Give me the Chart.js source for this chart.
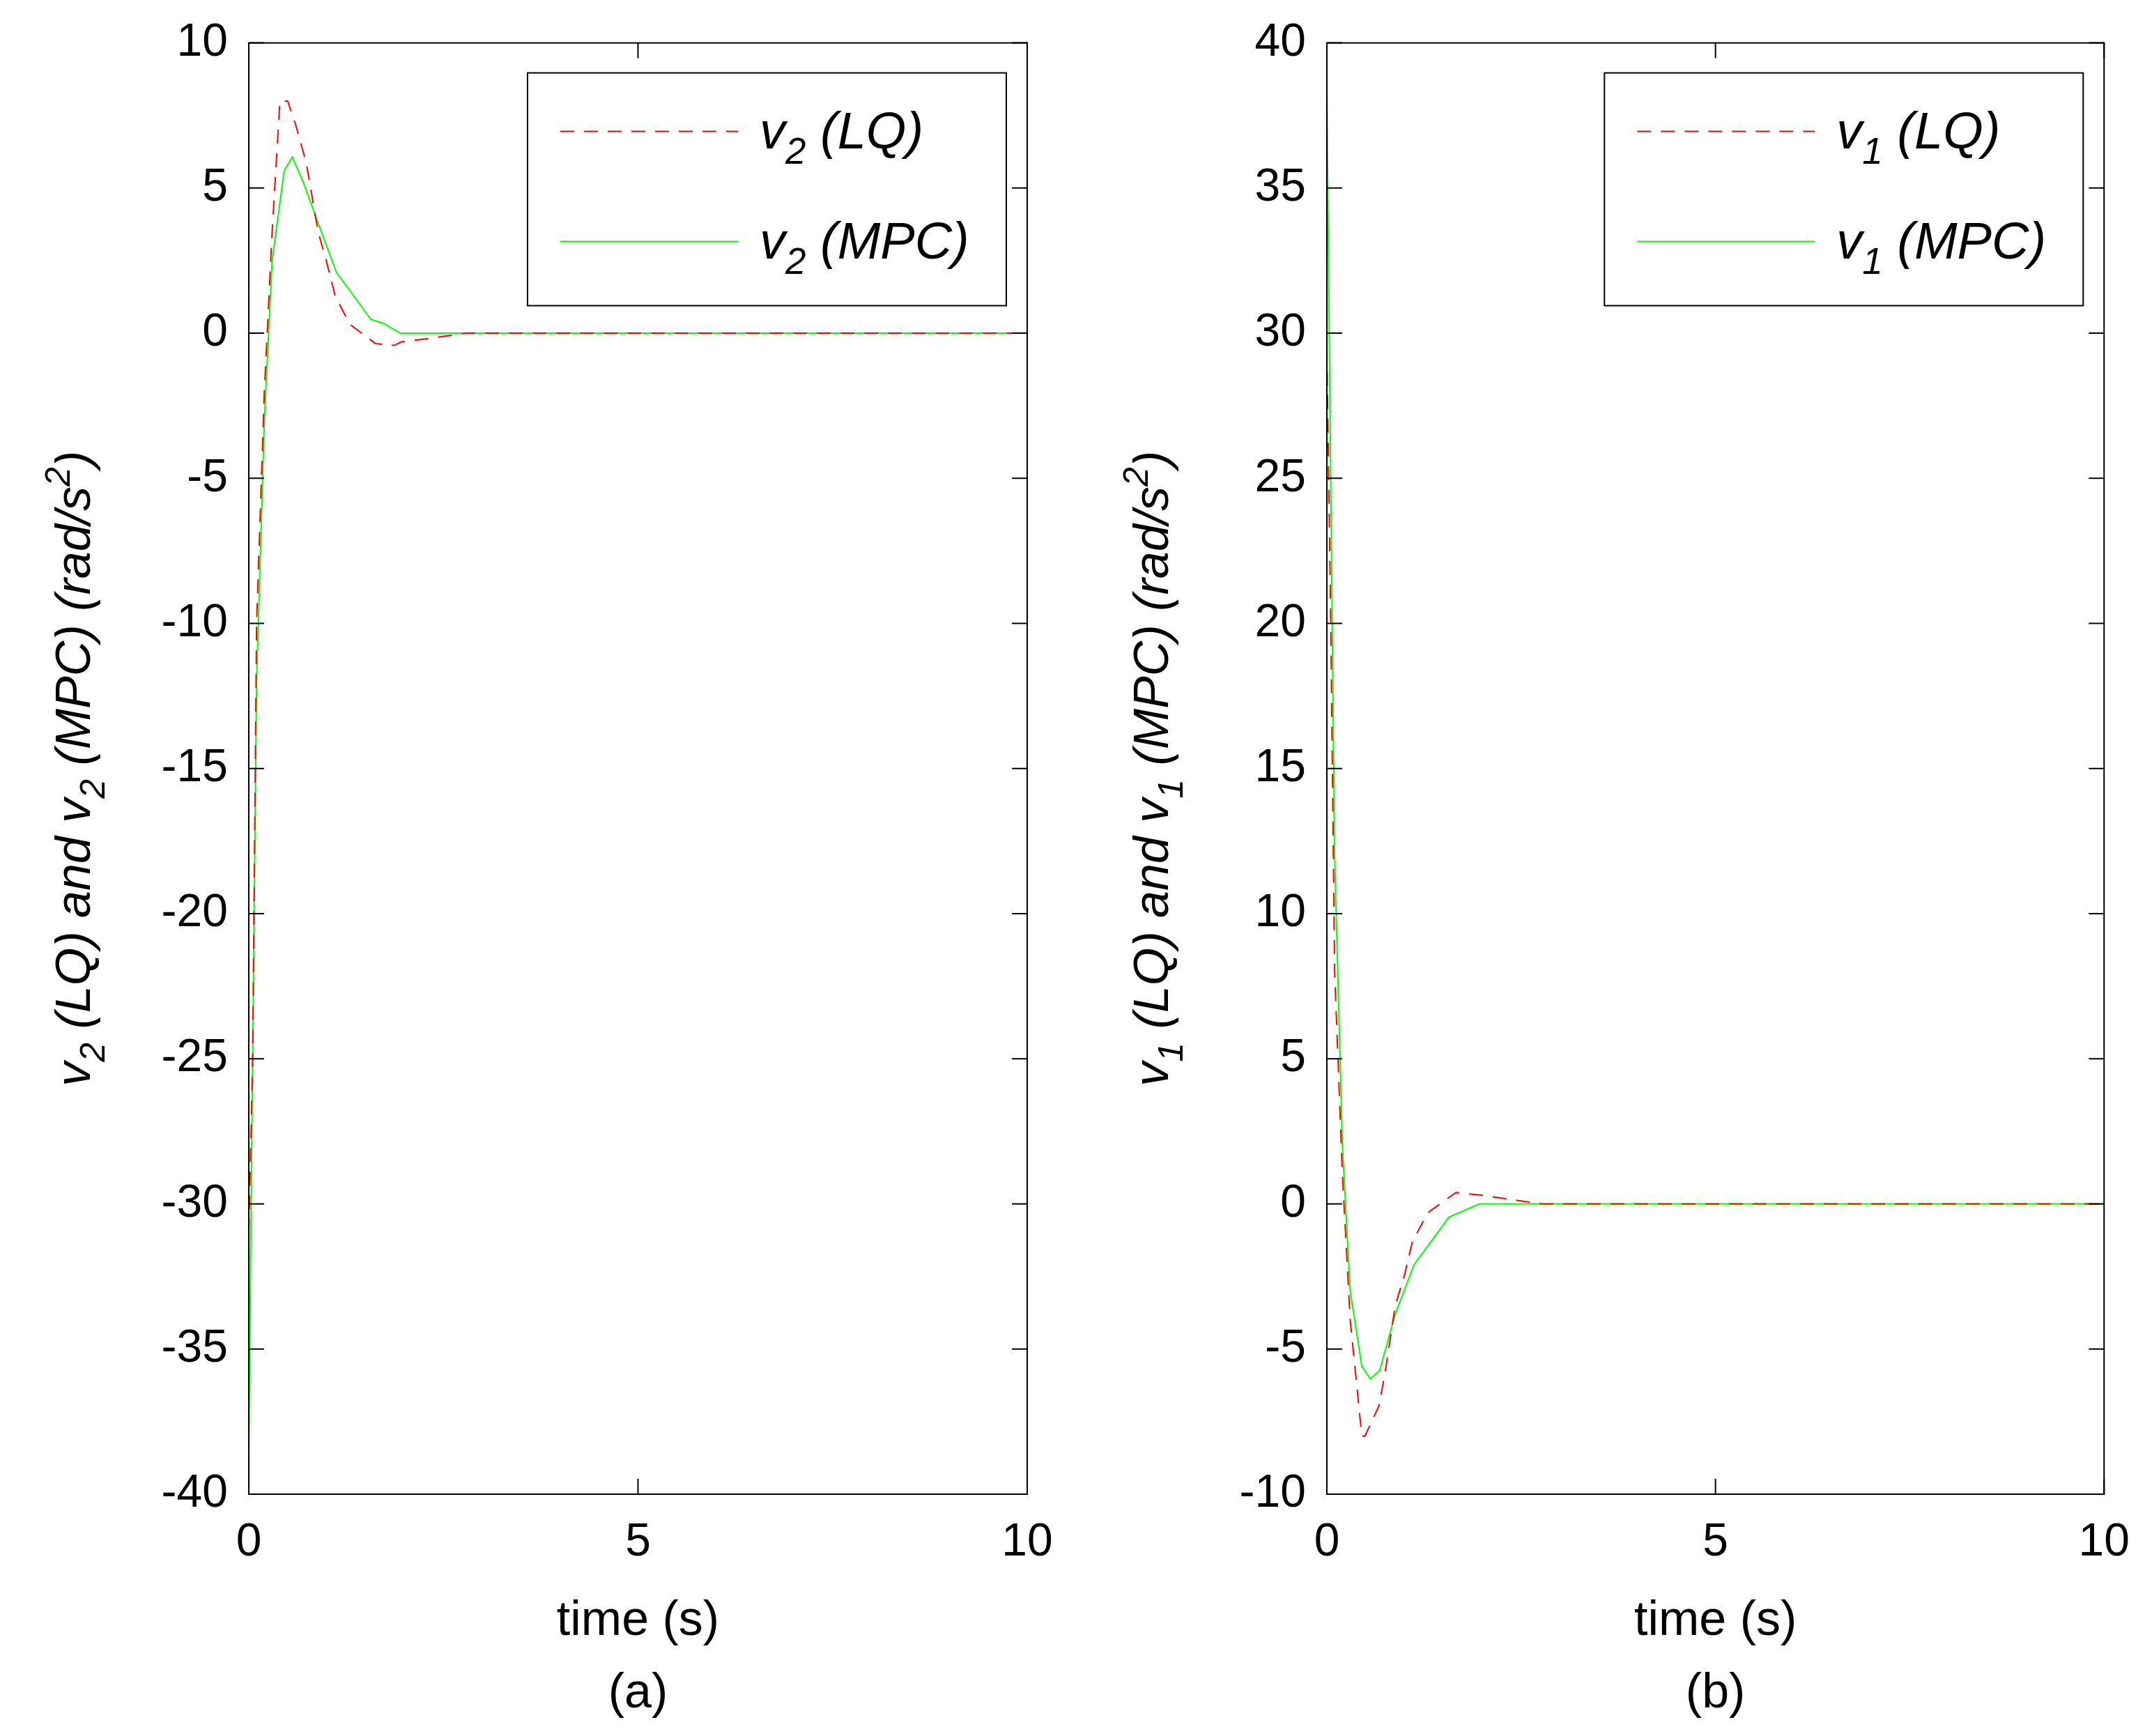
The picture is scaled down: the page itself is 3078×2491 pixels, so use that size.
<!DOCTYPE html>
<html><head><meta charset="utf-8">
<script src="https://cdn.jsdelivr.net/npm/chart.js@4.4.1/dist/chart.umd.min.js"></script>
<style>html,body{margin:0;padding:0;background:#fff}#w{position:relative;width:3078px;height:2491px}
canvas{position:absolute;top:0}</style></head><body>
<div id="w"><div style="position:absolute;left:0;top:0;width:1539px;height:2491px"><canvas id="a"></canvas></div>
<div style="position:absolute;left:1539px;top:0;width:1539px;height:2491px"><canvas id="b"></canvas></div></div>
<script>
const xTicks=[0,5,10];
const yTicksA=[10,5,0,-5,-10,-15,-20,-25,-30,-35,-40];
const yTicksB=[40,35,30,25,20,15,10,5,0,-5,-10];
const tLQ_a=[0,0.05,0.1,0.2,0.3,0.4,0.5,0.6,0.74,0.89,1.0,1.11,1.3,1.63,1.87,1.96,2.37,2.8,10];
const v2LQ=[-31,-25,-10,-2,3.5,8,8,7.2,5.85,3.5,2.45,1.28,0.3,-0.36,-0.42,-0.3,-0.16,0,0];
const tMPC_a=[0,0.03,0.1,0.2,0.3,0.455,0.56,0.7,0.89,1.125,1.57,1.72,1.95,10];
const v2MPC=[-38.5,-30,-12,-3,2.5,5.6,6.07,5.2,3.8,2.1,0.47,0.35,0,0];
const tLQ_b=[0,0.05,0.1,0.2,0.3,0.45,0.49,0.67,0.75,0.88,1.0,1.1,1.3,1.66,1.99,2.38,2.77,10];
const v1LQ=[29.5,20,8,1,-4,-8,-8,-6.96,-5.8,-3.5,-2.44,-1.3,-0.3,0.39,0.3,0.15,0,0];
const tMPC_b=[0,0.03,0.1,0.2,0.3,0.45,0.56,0.68,0.88,1.12,1.57,1.96,10];
const v1MPC=[38.5,30,12,2,-3,-5.59,-6.03,-5.73,-3.8,-2.1,-0.46,0,0];

function pts(t,v){return t.map((x,i)=>({x:x,y:v[i]}));}
const FONT='"Liberation Sans", Arial, sans-serif';
function rich(ctx,segs,size){let w=0;segs.forEach(s=>{ctx.font='italic '+(s[1]=='n'?size:Math.round(size*0.72))+'px '+FONT;w+=ctx.measureText(s[0]).width;});return w;}
function drawRich(ctx,segs,size,x,y){
  segs.forEach(s=>{const sz=s[1]=='n'?size:Math.round(size*0.72);ctx.font='italic '+sz+'px '+FONT;
    const dy=s[1]=='sub'?size*0.3:(s[1]=='sup'?-size*0.42:0);ctx.fillText(s[0],x,y+dy);x+=ctx.measureText(s[0]).width;});}

function make(id,lq,mpc,yt,idx,label,padL){
  const yMin=Math.min(...yt),yMax=Math.max(...yt);
  const frame={id:'frame',afterDraw(c){
    const ctx=c.ctx,a=c.chartArea;ctx.save();ctx.strokeStyle='#000';ctx.lineWidth=2;
    ctx.strokeRect(a.left,a.top,a.right-a.left,a.bottom-a.top);
    const tl=22;
    yt.forEach(v=>{const y=c.scales.y.getPixelForValue(v);ctx.beginPath();ctx.moveTo(a.left,y);ctx.lineTo(a.left+tl,y);ctx.moveTo(a.right,y);ctx.lineTo(a.right-tl,y);ctx.stroke();});
    xTicks.forEach(v=>{const x=c.scales.x.getPixelForValue(v);ctx.beginPath();ctx.moveTo(x,a.bottom);ctx.lineTo(x,a.bottom-tl);ctx.moveTo(x,a.top);ctx.lineTo(x,a.top+tl);ctx.stroke();});
    const bx=a.right-30-687,by=a.top+43,bw=687,bh=334;
    ctx.fillStyle='#fff';ctx.fillRect(bx,by,bw,bh);ctx.lineWidth=2;ctx.strokeRect(bx,by,bw,bh);
    ctx.lineWidth=2;ctx.strokeStyle='#ff0000';ctx.setLineDash([20,14]);ctx.beginPath();ctx.moveTo(bx+47,by+84);ctx.lineTo(bx+302,by+84);ctx.stroke();
    ctx.setLineDash([]);ctx.strokeStyle='#00ff00';ctx.beginPath();ctx.moveTo(bx+47,by+242);ctx.lineTo(bx+302,by+242);ctx.stroke();
    ctx.fillStyle='#000';ctx.textBaseline='alphabetic';ctx.textAlign='left';
    drawRich(ctx,[['v','n'],[idx,'sub'],[' (LQ)','n']],74,bx+333,by+108);
    drawRich(ctx,[['v','n'],[idx,'sub'],[' (MPC)','n']],74,bx+333,by+266);
    ctx.font='70px '+FONT;ctx.textAlign='center';
    const cx=(a.left+a.right)/2;ctx.fillText('time (s)',cx,2346);ctx.fillText(label,cx,2450);
    ctx.translate(a.left-252,(a.top+a.bottom)/2);ctx.rotate(-Math.PI/2);ctx.textAlign='left';
    const segs=[['v','n'],[idx,'sub'],[' (LQ) and v','n'],[idx,'sub'],[' (MPC) (rad/s','n'],['2','sup'],[')','n']];
    const w=rich(ctx,segs,70);drawRich(ctx,segs,70,-w/2,24);
    ctx.restore();}};
  return new Chart(document.getElementById(id),{type:'line',
    data:{datasets:[
      {data:lq,borderColor:'#ff0000',borderWidth:2,borderDash:[20,14],pointRadius:0,tension:0},
      {data:mpc,borderColor:'#00ff00',borderWidth:2,pointRadius:0,tension:0}]},
    options:{animation:false,responsive:true,maintainAspectRatio:false,devicePixelRatio:1,
      layout:{padding:{top:59,right:1539-padL-1117,left:0,bottom:0}},
      plugins:{legend:{display:false},tooltip:{enabled:false}},
      scales:{
        x:{type:'linear',min:0,max:10,afterBuildTicks:s=>{s.ticks=xTicks.map(v=>({value:v}));},
          grid:{display:false},border:{display:false},
          ticks:{color:'#000',font:{family:FONT,size:66},padding:22,maxRotation:0},
          afterFit:s=>{s.height=347;}},
        y:{min:yMin,max:yMax,afterBuildTicks:s=>{s.ticks=yt.map(v=>({value:v}));},
          grid:{display:false},border:{display:false},
          ticks:{color:'#000',font:{family:FONT,size:66},padding:22},
          afterFit:s=>{s.width=padL;}}}},
    plugins:[frame]});
}
make('a',pts(tLQ_a,v2LQ),pts(tMPC_a,v2MPC),yTicksA,'2','(a)',357);
make('b',pts(tLQ_b,v1LQ),pts(tMPC_b,v1MPC),yTicksB,'1','(b)',365);
</script></body></html>
